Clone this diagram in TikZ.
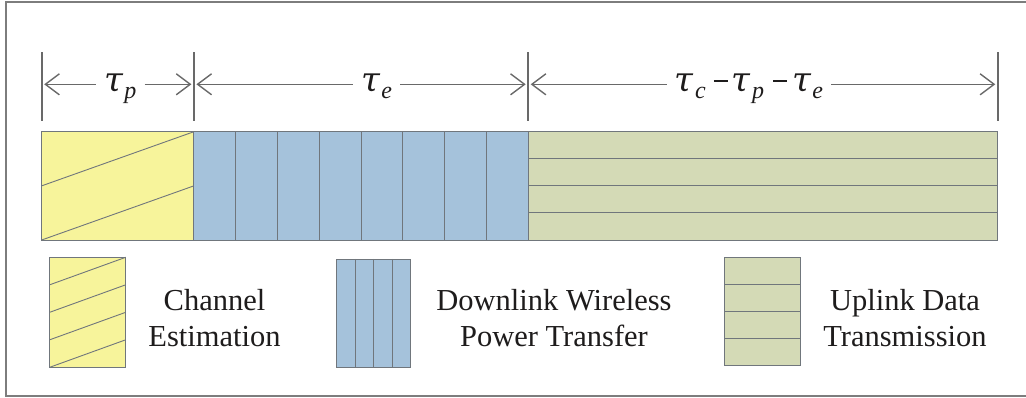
\documentclass[tikz,border=0pt]{standalone}
\usepackage{fontspec}
\setmainfont{Liberation Serif}
\newfontfamily\taufont{DejaVu Serif}
\usetikzlibrary{arrows.meta}
\definecolor{cy}{RGB}{247,244,155}
\definecolor{cb}{RGB}{165,194,219}
\definecolor{cg}{RGB}{212,218,182}
\definecolor{lncol}{RGB}{105,105,105}
\definecolor{frmcol}{RGB}{125,125,125}
\definecolor{cellcol}{RGB}{112,118,124}
\definecolor{txtcol}{RGB}{30,28,28}
\newcommand{\tauof}[1]{{\fontsize{34}{36}\taufont\itshape τ}\kern1.5pt\raisebox{-7pt}{\fontsize{24}{24}\selectfont\textit{#1}}}
\newcommand{\mminus}{\raisebox{10pt}{\rule{14pt}{1.5pt}}}
\tikzset{
  frame/.style={draw=frmcol, line width=2pt},
  tick/.style={draw=lncol, line width=1.8pt},
  dimarrow/.style={draw=lncol, line width=1.4pt, -{Straight Barb[length=14pt,width=21pt,line width=1.4pt]}, shorten >=2.5pt},
  cell/.style={draw=cellcol, line width=0.9pt},
  tlabel/.style={font=\fontsize{30}{36}\selectfont, text=txtcol, inner xsep=8pt, inner ysep=0pt, anchor=base},
  legtext/.style={font=\fontsize{30.5}{36}\selectfont, text=txtcol, align=center, anchor=base, inner sep=0pt},
}
\begin{document}
\begin{tikzpicture}[x=1pt,y=-1pt]
\useasboundingbox (0,0) rectangle (1026,398);
\clip (0,0) rectangle (1026,398);
\draw[frame] (5.7,2.5) rectangle (1032,395.7);

% ticks
\coordinate (k0) at (41.7,84.3);
\coordinate (k1) at (193.9,84.3);
\coordinate (k2) at (528.2,84.3);
\coordinate (k3) at (997.8,84.3);
\foreach \k in {k0,k1,k2,k3}{
  \draw[tick] ([yshift=-36.6pt]\k) -- ([yshift=32.4pt]\k);
}

% labels
\node[tlabel] (lp) at (120.3,91.7) {\tauof{p}};
\node[tlabel] (le) at (376.5,91.7) {\tauof{e}};
\node[tlabel] (lc) at (749,91.7) {\tauof{c}\kern8pt\mminus\kern4pt\tauof{p}\kern9pt\mminus\kern5pt\tauof{e}};

\draw[dimarrow] (lp.west |- k0) -- (k0);
\draw[dimarrow] (lp.east |- k1) -- (k1);
\draw[dimarrow] (le.west |- k1) -- (k1);
\draw[dimarrow] (le.east |- k2) -- (k2);
\draw[dimarrow] (lc.west |- k2) -- (k2);
\draw[dimarrow] (lc.east |- k3) -- (k3);

% main bar: channel estimation
\draw[cell, fill=cy] (41.7,131.7) rectangle (193.9,240);
\draw[cell] (41.7,240) -- (193.9,185.85);
\draw[cell] (41.7,185.85) -- (193.9,131.7);
% downlink WPT cells
\foreach \i in {0,...,7}{
  \draw[cell, fill=cb] ({193.9+\i*41.7875},131.7) rectangle ({193.9+(\i+1)*41.7875},240);
}
% uplink data
\draw[cell, fill=cg] (528.2,131.7) rectangle (997.8,240);
\foreach \y in {158.8,185.85,212.9}{
  \draw[cell] (528.2,\y) -- (997.8,\y);
}

% legend: channel estimation
\draw[cell, fill=cy] (49.7,257.3) rectangle (125.7,367.3);
\foreach \y in {367.3,339.8,312.3,284.8}{
  \draw[cell] (49.7,\y) -- (125.7,\y-27.5);
}
\node[legtext] (tce) at (214.5,346) {Channel\\Estimation};

% legend: downlink WPT
\draw[cell, fill=cb] (336.4,259) rectangle (410.8,367.3);
\foreach \x in {355,373.6,392.2}{
  \draw[cell] (\x,259) -- (\x,367.3);
}
\node[legtext] (twpt) at (554,346) {Downlink Wireless\\Power Transfer};

% legend: uplink data
\draw[cell, fill=cg] (724.3,257.3) rectangle (800,365.7);
\foreach \y in {284.4,311.5,338.6}{
  \draw[cell] (724.3,\y) -- (800,\y);
}
\node[legtext] (tul) at (905,346) {Uplink Data\\Transmission};
\end{tikzpicture}
\end{document}
